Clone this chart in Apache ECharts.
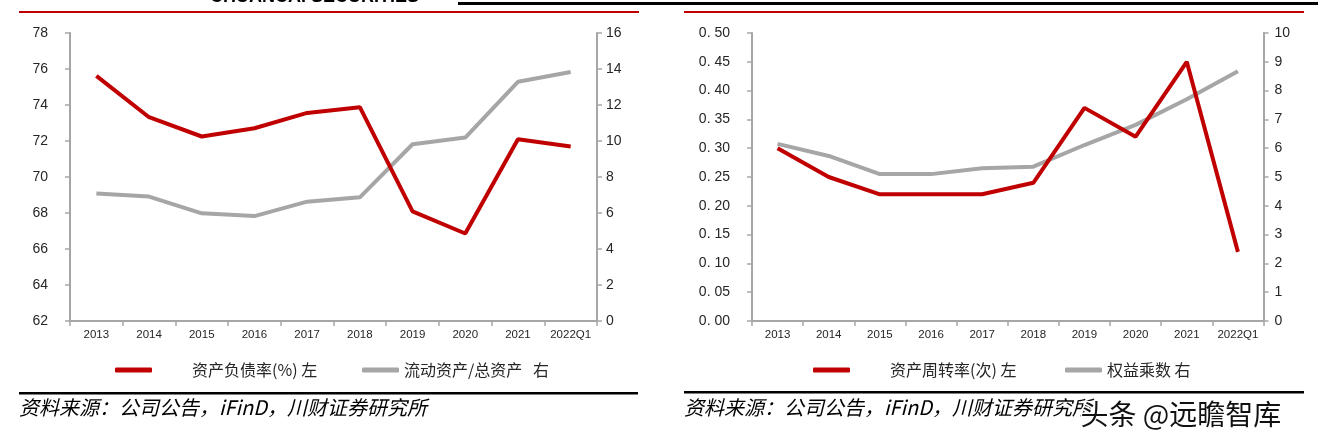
<!DOCTYPE html>
<html><head><meta charset="utf-8">
<script src="https://cdn.jsdelivr.net/npm/echarts@6/dist/echarts.min.js"></script>
<style>html,body{margin:0;padding:0;background:#fff}#c{width:1338px;height:445px}</style>
</head><body><div id="c"></div>
<script>
const categories = ['2013','2014','2015','2016','2017','2018','2019','2020','2021','2022Q1'];
const debtRatio = [75.62, 73.32, 72.25, 72.71, 73.56, 73.88, 68.09, 66.86, 72.10, 71.69];
const currentAssetShare = [7.09, 6.91, 5.98, 5.83, 6.63, 6.87, 9.82, 10.19, 13.29, 13.83];
const assetTurnover = [0.30, 0.25, 0.22, 0.22, 0.22, 0.24, 0.37, 0.32, 0.45, 0.12];
const equityMultiplier = [6.15, 5.73, 5.10, 5.10, 5.30, 5.36, 6.11, 6.81, 7.70, 8.67];
const leftTicksA = ['62','64','66','68','70','72','74','76','78'];
const rightTicksA = ['0','2','4','6','8','10','12','14','16'];
const leftTicksB = ['0. 00','0. 05','0. 10','0. 15','0. 20','0. 25','0. 30','0. 35','0. 40','0. 45','0. 50'];
const rightTicksB = ['0','1','2','3','4','5','6','7','8','9','10'];
const seriesNames = ['资产负债率(%) 左', '流动资产/总资产   右', '资产周转率(次) 左', '权益乘数 右'];
const sourceText = '资料来源：公司公告，iFinD，川财证券研究所';

const RED = '#C00000', GRAY = '#A6A6A6', TXT = '#262626';
const NUMFONT = '"Liberation Sans", Arial, sans-serif';
const chart = echarts.init(document.getElementById('c'));
function tickFmt(arr, min, step){ return v => { const i = Math.round((v - min) / step); return arr[i] !== undefined ? arr[i] : ''; }; }
function yAxis(gi, pos, min, max, step, labels, margin){
  return {type:'value', gridIndex:gi, position:pos, min:min, max:max, interval:step,
    axisLine:{show:true, lineStyle:{color:GRAY, width:2}},
    axisTick:{show:true, length:5, lineStyle:{color:GRAY, width:1.5}},
    splitLine:{show:false},
    axisLabel:{color:TXT, fontSize:14, fontFamily:NUMFONT, margin:margin, formatter: tickFmt(labels, min, step)}};
}
function xAxis(gi){
  return {type:'category', gridIndex:gi, data:categories, boundaryGap:true,
    axisLine:{lineStyle:{color:GRAY, width:2}},
    axisTick:{show:true, length:5, lineStyle:{color:GRAY, width:1.5}},
    axisLabel:{color:TXT, fontSize:11.5, fontFamily:NUMFONT, margin:8, interval:0}};
}
function lineSeries(name, data, color, xi, yi){
  return {name:name, type:'line', data:data, xAxisIndex:xi, yAxisIndex:yi, symbol:'none', smooth:false,
    lineStyle:{color:color, width:4}, itemStyle:{color:color}, z:(color===RED?3:2)};
}
const legendBase = {orient:'horizontal', top:357, icon:'roundRect', itemWidth:37, itemHeight:5,
  textStyle:{fontSize:16, color:TXT, fontFamily:'Noto Sans CJK SC'}};
chart.setOption({
  animation:false,
  grid:[
    {left:70, right:741, top:33, bottom:124, containLabel:false},
    {left:752, right:74.5, top:33, bottom:124, containLabel:false}
  ],
  xAxis:[xAxis(0), xAxis(1)],
  yAxis:[
    yAxis(0,'left',62,78,2,leftTicksA,22),
    yAxis(0,'right',0,16,2,rightTicksA,9),
    yAxis(1,'left',0,0.5,0.05,leftTicksB,22),
    yAxis(1,'right',0,10,1,rightTicksB,11)
  ],
  legend:[
    Object.assign({}, legendBase, {left:110, data:[seriesNames[0]], textStyle:Object.assign({}, legendBase.textStyle, {padding:[0,0,0,35]})}),
    Object.assign({}, legendBase, {left:357, data:[seriesNames[1]]}),
    Object.assign({}, legendBase, {left:808, data:[seriesNames[2]], textStyle:Object.assign({}, legendBase.textStyle, {padding:[0,0,0,35]})}),
    Object.assign({}, legendBase, {left:1060, data:[seriesNames[3]]})
  ],
  series:[
    lineSeries(seriesNames[0], debtRatio, RED, 0, 0),
    lineSeries(seriesNames[1], currentAssetShare, GRAY, 0, 1),
    lineSeries(seriesNames[2], assetTurnover, RED, 1, 2),
    lineSeries(seriesNames[3], equityMultiplier, GRAY, 1, 3)
  ],
  graphic:[
    {type:'text', x:210, y:-12, style:{text:'CHUANCAI SECURITIES', fontSize:18, fontWeight:'bold', fill:'#000', fontFamily:NUMFONT}},
    {type:'rect', shape:{x:458, y:2, width:860, height:3}, style:{fill:'#000'}},
    {type:'rect', shape:{x:19, y:11, width:620, height:2}, style:{fill:RED}},
    {type:'rect', shape:{x:684, y:11, width:620, height:2}, style:{fill:RED}},
    {type:'rect', shape:{x:19, y:392, width:619, height:2.5}, style:{fill:'#000'}},
    {type:'rect', shape:{x:684, y:391, width:620, height:2.5}, style:{fill:'#000'}},
    {type:'text', left:19, top:397, style:{text:sourceText, fontSize:20, fontStyle:'italic', fill:'#000', fontFamily:'Noto Sans CJK SC'}},
    {type:'text', left:684, top:397, style:{text:sourceText, fontSize:20, fontStyle:'italic', fill:'#000', fontFamily:'Noto Sans CJK SC'}},
    {type:'text', left:1079, top:399, z:10, style:{text:'头条 @远瞻智库', fontSize:28, fill:'#111', stroke:'#fff', lineWidth:3, fontFamily:'Noto Sans CJK SC'}}
  ]
});
</script></body></html>
